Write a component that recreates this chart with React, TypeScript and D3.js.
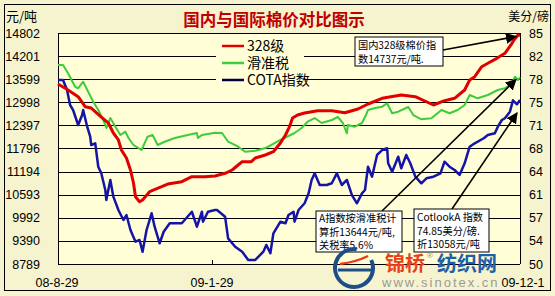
import React from "react";
import * as d3 from "d3";

// ---- data (day offset from 2008-08-29, value) ----
const START = new Date(2008, 7, 29);
const END = new Date(2009, 11, 1);

const leftTicks = [8789, 9390, 9992, 10593, 11194, 11796, 12397, 12998, 13599, 14201, 14802];
const rightTickLabels = ["50", "54", "57", "61", "64", "68", "71", "75", "78", "82", "85"];
const rightDomain = [50, 85];
const xTickDays = [0, 153, 459];
const xTickLabels = ["08-8-29", "09-1-29", "09-12-1"];

// 328级 (元/吨)
const red328: [number, number][] = [
  [0, 13474], [10, 13318], [20, 13144], [27, 12884], [33, 12850], [38, 12727], [43, 12615],
  [50, 12459], [55, 12199], [60, 12017], [63, 11756], [68, 11548], [72, 11236], [75, 10897],
  [77, 10541], [81, 10411], [84, 10455], [91, 10671], [103, 10801], [109, 10871], [123, 10931],
  [133, 11061], [146, 11061], [156, 11080], [166, 11150], [173, 11236], [179, 11366], [183, 11452],
  [192, 11452], [196, 11548], [206, 11626], [214, 11712], [221, 11939], [226, 12147], [230, 12363],
  [233, 12589], [238, 12667], [245, 12720], [258, 12779], [272, 12779], [285, 12727], [298, 12824],
  [308, 12954], [322, 13102], [341, 13188], [355, 13144], [373, 12928], [384, 13040], [394, 13102],
  [404, 13318], [409, 13579], [414, 13664], [421, 13925], [427, 14013], [436, 14143], [444, 14274],
  [450, 14490], [453, 14620], [457, 14750], [459, 14737],
];

// 滑准税 (元/吨)
const greenSliding: [number, number][] = [
  [0, 13969], [5, 13969], [10, 13753], [17, 13404], [20, 13362], [25, 13534], [30, 13274],
  [35, 13014], [40, 12798], [45, 12537], [48, 12329], [52, 12589], [57, 12363], [62, 12147],
  [67, 12233], [70, 12069], [75, 11887], [83, 11756], [89, 12103], [94, 12147], [99, 11887],
  [106, 11972], [116, 12069], [129, 12147], [138, 12199], [139, 12069], [143, 12147], [149, 12173],
  [156, 12207], [163, 12199], [169, 11972], [179, 11842], [186, 11712], [196, 11738], [206, 11808],
  [212, 11887], [221, 12017], [229, 12121], [235, 12199], [242, 12329], [248, 12493], [255, 12589],
  [262, 12459], [272, 12537], [278, 12615], [283, 12459], [287, 12191], [288, 12407], [295, 12363],
  [302, 12459], [306, 12667], [308, 12798], [315, 12850], [322, 12884], [327, 12972], [332, 12712],
  [338, 12753], [348, 12876], [353, 12667], [361, 12556], [371, 12582], [381, 12798], [389, 12712],
  [397, 12798], [404, 12928], [409, 13188], [417, 13102], [427, 13188], [437, 13318], [444, 13362],
  [451, 13493], [454, 13664], [457, 13579], [459, 13644],
];

// COTA指数 (美分/磅)
const blueCota: [number, number][] = [
  [0, 77.88], [5, 77.88], [9, 76.36], [12, 74.09], [15, 73.33], [20, 71.06], [24, 72.58],
  [25, 73.33], [29, 70.8], [32, 69.29], [33, 68.03], [37, 68.29], [40, 64.74], [43, 63.74],
  [47, 61.21], [48, 59.7], [52, 62.73], [55, 60.2], [60, 58.18], [65, 56.67], [68, 57.42],
  [72, 55.15], [77, 53.38], [81, 53.64], [84, 51.86], [88, 55.15], [93, 57.68], [96, 55.65],
  [101, 53.14], [105, 54.89], [111, 56.17], [123, 56.17], [133, 57.92], [138, 55.65], [143, 57.92],
  [144, 56.41], [149, 57.92], [156, 58.18], [158, 58.18], [166, 57.17], [169, 53.89], [176, 52.62],
  [183, 51.86], [189, 50.61], [196, 50.61], [204, 51.86], [207, 52.88], [211, 51.62], [214, 54.65],
  [221, 56.41], [226, 56.17], [229, 57.42], [234, 57.92], [235, 56.41], [239, 58.18], [245, 59.2],
  [249, 60.71], [252, 62.73], [255, 63.74], [260, 61.97], [267, 61.97], [272, 62.23], [277, 63.74],
  [282, 61.97], [287, 62.73], [292, 60.45], [297, 59.2], [302, 60.71], [305, 61.21], [308, 64.74],
  [312, 63.23], [317, 66.52], [322, 67.27], [327, 67.53], [328, 65.26], [332, 63.98], [338, 66.26],
  [341, 64.5], [346, 66.52], [350, 65.26], [355, 63.23], [361, 62.23], [366, 62.98], [373, 63.23],
  [380, 63.74], [384, 65.5], [389, 64.74], [394, 64.24], [399, 63.49], [404, 65.26], [409, 67.77],
  [414, 68.29], [423, 69.05], [427, 69.55], [434, 69.8], [437, 70.8], [441, 71.82], [444, 72.08],
  [449, 73.08], [452, 74.8], [456, 74.2], [459, 74.85],
];

const legendItems = [
  { label: "328级", color: "#E00000" },
  { label: "滑准税", color: "#3CCC3C" },
  { label: "COTA指数", color: "#000040" },
];

const note1 = ["国内328级棉价指", "数14737元/吨."];
const note2 = ["A指数按滑准税计", "算折13644元/吨,", "关税率5.6%"];
const note3 = ["CotlookA 指数", "74.85美分/磅.", "折13058元/吨"];

export default function App() {
  const W = 555, H = 296;
  const L = 58, R = 520, T = 33, B = 264;
  const day = (d: number) => d3.timeDay.offset(START, d);
  const x = d3.scaleTime().domain([START, END]).range([L, R]);
  const yL = d3.scaleLinear().domain([leftTicks[0], leftTicks[leftTicks.length - 1]]).range([B, T]);
  const yR = d3.scaleLinear().domain(rightDomain).range([B, T]);

  const lineL = d3.line<[number, number]>().x((d) => x(day(d[0]))).y((d) => yL(d[1]));
  const lineR = d3.line<[number, number]>().x((d) => x(day(d[0]))).y((d) => yR(d[1]));

  const cn = "'Noto Sans CJK SC', 'Noto Sans', sans-serif";
  const num = "'Liberation Sans', Arial, sans-serif";

  const lastR = red328[red328.length - 1];
  const lastG = greenSliding[greenSliding.length - 1];
  const lastB = blueCota[blueCota.length - 1];

  const arrows = [
    { x1: 443, y1: 50, x2: x(day(lastR[0])) - 4, y2: yL(lastR[1]) + 1 },
    { x1: 382, y1: 211, x2: x(day(lastG[0])) - 4, y2: yL(lastG[1]) + 2 },
    { x1: 452, y1: 209, x2: x(day(lastB[0])) - 3, y2: yR(lastB[1]) + 13 },
  ];

  const box = (bx: number, by: number, bw: number, bh: number, lines: string[], gap: number, first: number) => (
    <g>
      <rect x={bx} y={by} width={bw} height={bh} fill="#FFFFFF" stroke="#000" strokeWidth={1} />
      {lines.map((t, i) => (
        <text key={i} x={bx + 3} y={by + first + i * gap} fontSize={10.2} fontFamily={cn} fill="#000">
          {t}
        </text>
      ))}
    </g>
  );

  return (
    <svg width={W} height={H} style={{ position: "absolute", left: 0, top: 0 }} xmlns="http://www.w3.org/2000/svg">
      <defs>
        <marker id="ah" viewBox="0 0 10 10" refX="9" refY="5" markerWidth="7" markerHeight="7" orient="auto">
          <path d="M0,0 L10,5 L0,10 z" fill="#000" />
        </marker>
      </defs>
      <rect x={0} y={0} width={W} height={H} fill="#F6F3CF" />
      <rect x={4.5} y={4.5} width={546} height={286} fill="none" stroke="#000" strokeWidth={1} />
      <rect x={L} y={T} width={R - L} height={B - T} fill="#FFFED6" />

      {/* title */}
      <text x={274} y={26} textAnchor="middle" fontSize={16.5} fontWeight="bold" fontFamily={cn} fill="#C00000">
        国内与国际棉价对比图示
      </text>
      <text x={6} y={21} fontSize={13} fontFamily={cn} fill="#000">元/吨</text>
      <text x={549} y={21} textAnchor="end" fontSize={12} fontFamily={cn} fill="#000">美分/磅</text>

      {/* grid */}
      {leftTicks.map((v, i) => (
        <g key={i}>
          <line x1={L} x2={R} y1={Math.round(yL(v)) + 0.5} y2={Math.round(yL(v)) + 0.5} stroke="#000" strokeWidth={1} />
          <text x={40} y={yL(v) + 4.5} textAnchor="end" fontSize={12.5} fontFamily={num} fill="#000">{v}</text>
          <text x={529} y={yL(v) + 4.5} fontSize={12.5} fontFamily={num} fill="#000">{rightTickLabels[i]}</text>
        </g>
      ))}
      <line x1={L + 0.5} x2={L + 0.5} y1={T} y2={B} stroke="#000" />
      <line x1={R + 0.5} x2={R + 0.5} y1={T} y2={B} stroke="#000" />
      {xTickDays.map((d, i) => (
        <g key={i}>
          {i === 1 && <line x1={Math.round(x(day(d))) + 0.5} x2={Math.round(x(day(d))) + 0.5} y1={B - 4} y2={B} stroke="#000" />}
          <text x={i === 0 ? x(day(d)) - 1 : i === 2 ? x(day(d)) + 3 : x(day(d))} y={287} textAnchor="middle" fontSize={12.5} fontFamily={num} fill="#000">
            {xTickLabels[i]}
          </text>
        </g>
      ))}

      {/* legend */}
      <rect x={216} y={37} width={88} height={52} fill="#FFFED6" />
      {legendItems.map((it, i) => (
        <g key={i}>
          <line x1={222} x2={244} y1={46 + i * 17} y2={46 + i * 17} stroke={it.color} strokeWidth={2.5} />
          <text x={247} y={51 + i * 17} fontSize={14} fontFamily={cn} fill="#000">{it.label}</text>
        </g>
      ))}

      {/* series */}
      <path d={lineL(greenSliding) || ""} fill="none" stroke="#3CCC3C" strokeWidth={2} strokeLinejoin="round" />
      <path d={lineR(blueCota) || ""} fill="none" stroke="#1414A8" strokeWidth={2.5} strokeLinejoin="round" />
      <path d={lineL(red328) || ""} fill="none" stroke="#E00000" strokeWidth={3} strokeLinejoin="round" />

      {/* annotations */}
      {arrows.map((a, i) => (
        <line key={i} x1={a.x1} y1={a.y1} x2={a.x2} y2={a.y2} stroke="#000" strokeWidth={1.6} markerEnd="url(#ah)" />
      ))}
      {box(355, 37, 88, 29, note1, 14, 12)}
      {box(316, 211, 86, 41, note2, 13.5, 11)}
      {box(414, 209, 75, 43, note3, 13.5, 12)}

      {/* watermark */}
      <g>
        <circle cx={354} cy={268} r={19} fill="none" stroke="#1E4E86" strokeWidth={4} strokeDasharray="100 19" transform="rotate(-25 354 268)" />
        <line x1={338} x2={372} y1={270} y2={270} stroke="#1E4E86" strokeWidth={3} />
        <path d="M340,264 Q356,262 368,256" fill="none" stroke="#E83A1A" strokeWidth={2.5} />
        <text x={385} y={271} fontSize={20} fontWeight="bold" fontFamily={cn} fill="#E8401A">锦桥</text>
        <text x={427} y={258} fontSize={8} fontFamily={num} fill="#888">®</text>
        <text x={437} y={271} fontSize={20} fontWeight="bold" fontFamily={cn} fill="#2060A8">纺织网</text>
        <text x={382} y={287} fontSize={13} fontFamily={num} fill="#9A9A9A" letterSpacing={2}>www.sinotex.cn</text>
      </g>
    </svg>
  );
}
